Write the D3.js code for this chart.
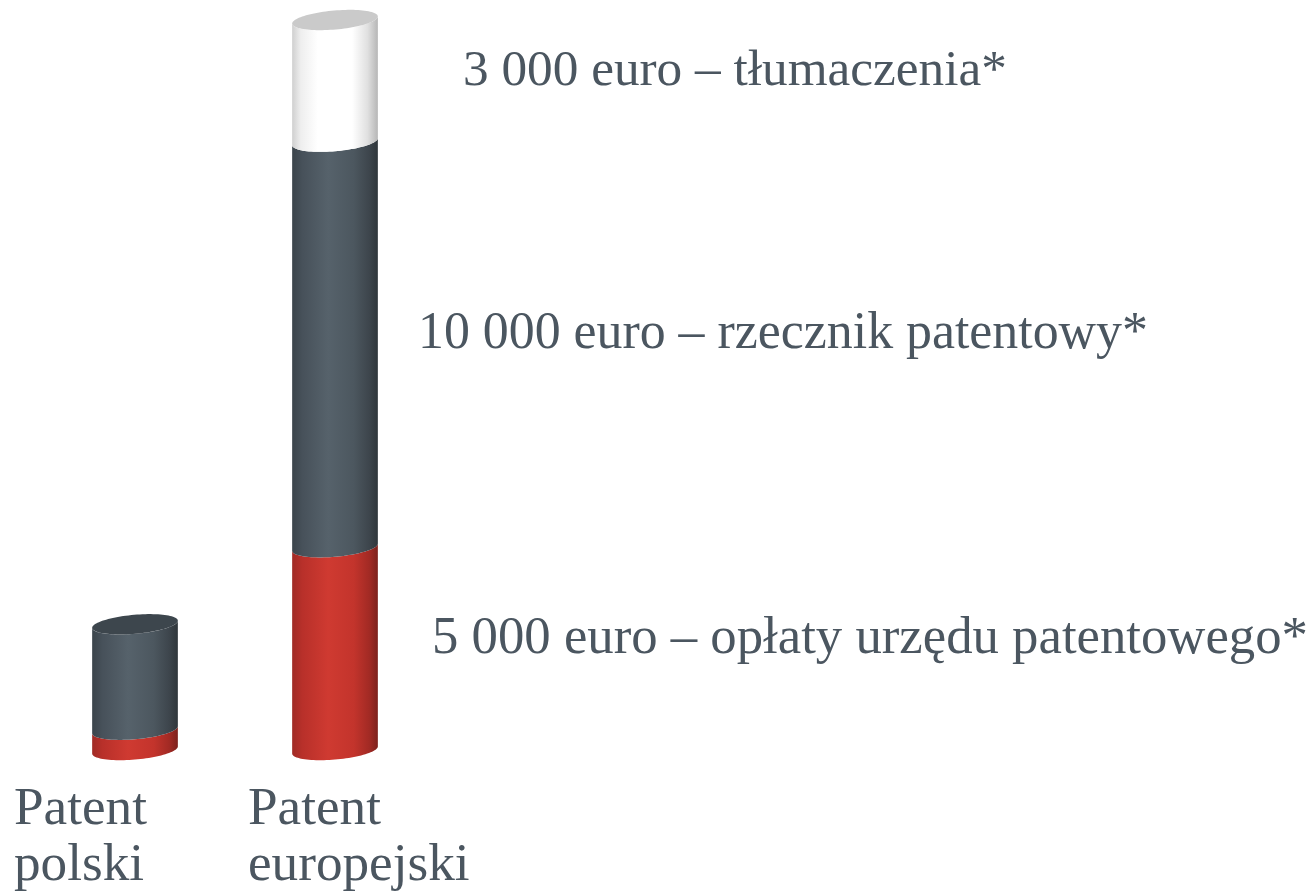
<!DOCTYPE html>
<html>
<head>
<meta charset="utf-8">
<script src="https://cdn.jsdelivr.net/npm/d3@7"></script>
<style>
  html, body { margin: 0; background: #fff; }
  svg { display: block; }
</style>
</head>
<body>
<div id="chart"></div>
<script>
// ---------- Data ----------
const categories = ["Patent polski", "Patent europejski"];
const categoryLines = [["Patent", "polski"], ["Patent", "europejski"]];
const costKeys = ["oplaty", "rzecznik", "tlumaczenia"];
const feesValues = [500, 5000];          // opłaty urzędu patentowego
const attorneyValues = [2600, 10000];    // rzecznik patentowy
const translationValues = [0, 3000];     // tłumaczenia
const costLabels = [
  "5 000 euro – opłaty urzędu patentowego*",
  "10 000 euro – rzecznik patentowy*",
  "3 000 euro – tłumaczenia*"
];

// ---------- Layout ----------
const W = 1316, H = 893;
const textColor = "#4b5660";
const fontFamily = "'Liberation Serif', 'DejaVu Serif', serif";

const rows = categories.map((c, i) => ({
  category: c,
  oplaty: feesValues[i],
  rzecznik: attorneyValues[i],
  tlumaczenia: translationValues[i]
}));
const series = d3.stack().keys(costKeys)(rows);

const x = d3.scalePoint().domain(categories).range([135, 335]);
const y = d3.scaleLinear().domain([0, 18000]).range([750, 20]);

const rx = 43, ry = 9.5;
const tilt = -5 * Math.PI / 180;

const bodyStops = {
  oplaty: [[0, "#a02b25"], [0.12, "#b8302a"], [0.42, "#cf3a31"], [0.72, "#c3342c"], [0.9, "#a22a24"], [1, "#7c211c"]],
  rzecznik: [[0, "#3b444b"], [0.12, "#47515a"], [0.42, "#56626b"], [0.72, "#4c575f"], [0.9, "#3d454c"], [1, "#2f363b"]],
  tlumaczenia: [[0, "#cfcfcf"], [0.1, "#eeeeee"], [0.3, "#ffffff"], [0.7, "#ffffff"], [0.88, "#e0e0e0"], [1, "#b6b6b6"]]
};
const capColor = { oplaty: "#b3302a", rzecznik: "#3d464d", tlumaczenia: "#cacaca" };

const svg = d3.select("#chart").append("svg")
  .attr("width", W).attr("height", H)
  .attr("viewBox", `0 0 ${W} ${H}`);

const defs = svg.append("defs");
costKeys.forEach(k => {
  const g = defs.append("linearGradient")
    .attr("id", "grad-" + k)
    .attr("x1", 0).attr("x2", 1).attr("y1", 0).attr("y2", 0);
  bodyStops[k].forEach(([o, c]) => g.append("stop").attr("offset", o).attr("stop-color", c));
});

// point on tilted ellipse
function ep(cx, cy, t) {
  return [
    cx + rx * Math.cos(t) * Math.cos(tilt) - ry * Math.sin(t) * Math.sin(tilt),
    cy + rx * Math.cos(t) * Math.sin(tilt) + ry * Math.sin(t) * Math.cos(tilt)
  ];
}
// parameter where the side lines touch the ellipse
const tR = Math.atan(-(ry * Math.sin(tilt)) / (rx * Math.cos(tilt)));
const tL = tR + Math.PI;
const N = 48;

function bodyPath(cx, yTop, yBot) {
  const p = d3.path();
  p.moveTo(...ep(cx, yTop, tL));
  p.lineTo(...ep(cx, yBot, tL));
  for (let i = 1; i <= N; i++) p.lineTo(...ep(cx, yBot, tL - (tL - tR) * i / N));
  p.lineTo(...ep(cx, yTop, tR));
  for (let i = 1; i <= N; i++) p.lineTo(...ep(cx, yTop, tR + (tL - tR) * i / N));
  p.closePath();
  return p.toString();
}
function capPath(cx, cy) {
  const p = d3.path();
  for (let i = 0; i <= 2 * N; i++) {
    const pt = ep(cx, cy, Math.PI * i / N);
    i === 0 ? p.moveTo(...pt) : p.lineTo(...pt);
  }
  p.closePath();
  return p.toString();
}

// ---------- Cylinders ----------
const bars = svg.append("g");
series.forEach(s => {
  bars.append("g")
    .selectAll("path")
    .data(s.filter(d => d[1] > d[0]))
    .join("path")
    .attr("fill", `url(#grad-${s.key})`)
    .attr("d", d => bodyPath(x(d.data.category), y(d[1]), y(d[0])));
});

// top caps
categories.forEach((c, ci) => {
  const top = [...series].reverse().find(s => s[ci][1] > s[ci][0]);
  bars.append("path")
    .attr("fill", capColor[top.key])
    .attr("d", capPath(x(c), y(top[ci][1])));
});

// ---------- Segment labels (for the European patent) ----------
const labelX = [432, 418, 463];
const labelWidth = [876, 730, 544];
const eu = categories.length - 1;
const labels = svg.append("g")
  .attr("fill", textColor)
  .attr("font-family", fontFamily);

series.forEach((s, i) => {
  const d = s[eu];
  const t = labels.append("text")
    .attr("x", labelX[i])
    .attr("y", y((d[0] + d[1]) / 2) + 4)
    .attr("font-size", 56)
    .text(costLabels[i]);
  const w = t.node().getComputedTextLength();
  t.attr("font-size", 56 * labelWidth[i] / w);
});

// ---------- Category labels ----------
const catX = [14, 248];
const cat = svg.append("g")
  .attr("fill", textColor)
  .attr("font-family", fontFamily);
const probe = cat.append("text").attr("font-size", 50).text("Patent");
const catSize = 50 * 133 / probe.node().getComputedTextLength();
probe.remove();

categories.forEach((c, i) => {
  const t = cat.append("text")
    .attr("x", catX[i])
    .attr("y", 824)
    .attr("font-size", catSize);
  categoryLines[i].forEach((line, j) => {
    t.append("tspan")
      .attr("x", catX[i])
      .attr("dy", j === 0 ? 0 : 56)
      .text(line);
  });
});
</script>
</body>
</html>
